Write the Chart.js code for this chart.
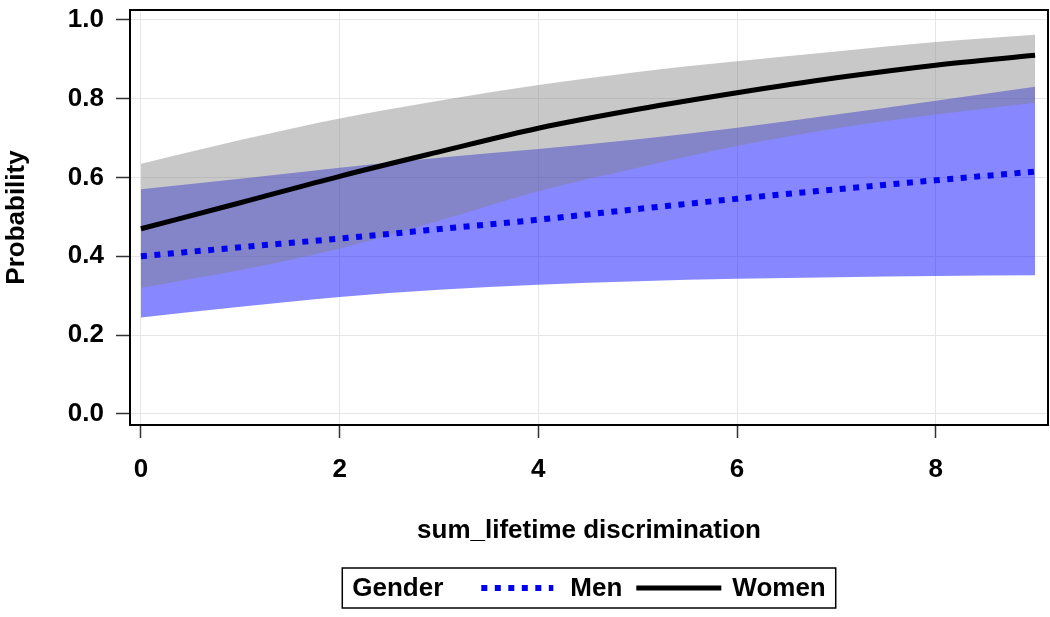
<!DOCTYPE html>
<html lang="en">
<head>
<meta charset="utf-8">
<title>Probability by sum_lifetime discrimination</title>
<style>
  html, body { margin: 0; padding: 0; background: #fff; }
  #wrap { width: 1050px; height: 617px; }
</style>
</head>
<body>
<div id="wrap"><canvas id="chart"></canvas></div>
<script src="https://cdn.jsdelivr.net/npm/chart.js@4.4.1/dist/chart.umd.min.js"></script>
<script>
// values
const discrimination = [0, 1, 2, 3, 4, 5, 6, 7, 8, 9];
const womenProb  = [0.470, 0.536, 0.603, 0.665, 0.725, 0.773, 0.815, 0.853, 0.885, 0.910];
const womenLower = [0.320, 0.365, 0.420, 0.490, 0.565, 0.625, 0.680, 0.725, 0.760, 0.790];
const womenUpper = [0.635, 0.695, 0.750, 0.795, 0.835, 0.868, 0.895, 0.920, 0.944, 0.962];
const menProb    = [0.400, 0.423, 0.445, 0.469, 0.493, 0.520, 0.546, 0.570, 0.593, 0.615];
const menLower   = [0.245, 0.272, 0.297, 0.315, 0.328, 0.337, 0.343, 0.347, 0.350, 0.352];
const menUpper   = [0.570, 0.597, 0.625, 0.650, 0.672, 0.697, 0.726, 0.760, 0.795, 0.830];
const xTicks = [0, 2, 4, 6, 8];
const yTicks = [0.0, 0.2, 0.4, 0.6, 0.8, 1.0];

const pts = ys => ys.map((y, i) => ({x: discrimination[i], y: y}));
const FAMILY = "'Liberation Sans', Arial, sans-serif";
Chart.defaults.font.family = FAMILY;
Chart.defaults.font.size = 26;
Chart.defaults.font.weight = 'bold';
Chart.defaults.color = '#000';

function band(data, order, fill, color) {
  return {
    data: pts(data), order: order, fill: fill, backgroundColor: color,
    borderWidth: 0, pointRadius: 0, cubicInterpolationMode: 'monotone'
  };
}

// black frame round the plot area
const frame = {
  id: 'frame',
  afterDraw(chart) {
    const {ctx, chartArea: a} = chart;
    ctx.save();
    ctx.strokeStyle = '#000';
    ctx.lineWidth = 2;
    ctx.strokeRect(a.left, a.top, a.right - a.left, a.bottom - a.top);
    ctx.restore();
  }
};

// legend in one boxed row: "Gender", then the two line samples
const genderLegend = {
  id: 'genderLegend',
  afterDraw(chart) {
    const {ctx, chartArea: a} = chart;
    const men = chart.data.datasets.find(d => d.label === 'Men');
    const women = chart.data.datasets.find(d => d.label === 'Women');
    ctx.save();
    ctx.font = 'bold 26px ' + FAMILY;
    ctx.textBaseline = 'middle';
    const wG = ctx.measureText('Gender').width;
    const wM = ctx.measureText('Men').width;
    const wW = ctx.measureText('Women').width;
    const total = 10 + wG + 38 + 72 + 17 + wM + 14 + 85 + 11 + wW + 10;
    const left = (a.left + a.right) / 2 - total / 2;
    const top = 568, h = 40, cy = top + h / 2;
    ctx.strokeStyle = '#000';
    ctx.lineWidth = 1.5;
    ctx.strokeRect(left, top, total, h);
    ctx.fillStyle = '#000';
    let x = left + 10;
    ctx.fillText('Gender', x, cy + 1);
    x += wG + 38;
    ctx.strokeStyle = men.borderColor;
    ctx.lineWidth = men.borderWidth;
    ctx.setLineDash(men.borderDash);
    ctx.beginPath(); ctx.moveTo(x, cy); ctx.lineTo(x + 72, cy); ctx.stroke();
    x += 72 + 17;
    ctx.setLineDash([]);
    ctx.fillText('Men', x, cy + 1);
    x += wM + 14;
    ctx.strokeStyle = women.borderColor;
    ctx.lineWidth = women.borderWidth;
    ctx.beginPath(); ctx.moveTo(x, cy); ctx.lineTo(x + 85, cy); ctx.stroke();
    x += 85 + 11;
    ctx.fillText('Women', x, cy + 1);
    ctx.restore();
  }
};

new Chart(document.getElementById('chart'), {
  type: 'line',
  data: {
    datasets: [
      band(menLower, 4, false, 'transparent'),
      band(menUpper, 3, '-1', 'rgba(0, 0, 255, 0.47)'),
      band(womenLower, 2, false, 'transparent'),
      band(womenUpper, 1, '-1', 'rgba(128, 128, 128, 0.43)'),
      {
        label: 'Men', data: pts(menProb), order: 0,
        borderColor: '#0000f0', borderWidth: 6, borderDash: [6, 7.5],
        pointRadius: 0, fill: false, cubicInterpolationMode: 'monotone'
      },
      {
        label: 'Women', data: pts(womenProb), order: 0,
        borderColor: '#000', borderWidth: 5,
        pointRadius: 0, fill: false, cubicInterpolationMode: 'monotone'
      }
    ]
  },
  options: {
    responsive: true,
    maintainAspectRatio: false,
    animation: false,
    layout: {padding: {top: 10, right: 2, bottom: 70, left: 0}},
    plugins: {legend: {display: false}, tooltip: {enabled: false}},
    scales: {
      x: {
        type: 'linear', min: -0.11, max: 9.13,
        afterBuildTicks: s => { s.ticks = xTicks.map(v => ({value: v})); },
        afterFit: s => { s.height = 122; s.paddingLeft = 0; s.paddingRight = 0; },
        ticks: {padding: 16, callback: v => String(v)},
        grid: {color: '#e6e6e6', tickColor: '#333', tickWidth: 1.5, tickLength: 13},
        border: {display: false},
        title: {display: true, text: 'sum_lifetime discrimination', padding: {top: 0, bottom: 1}}
      },
      y: {
        min: -0.028, max: 1.025,
        afterBuildTicks: s => { s.ticks = yTicks.map(v => ({value: v})); },
        afterFit: s => { s.width = 130; s.paddingTop = 0; s.paddingBottom = 0; },
        ticks: {padding: 12, callback: v => v.toFixed(1)},
        grid: {color: '#e6e6e6', tickColor: '#333', tickWidth: 1.5, tickLength: 14},
        border: {display: false},
        title: {display: true, text: 'Probability', padding: {top: 1, bottom: 0}}
      }
    }
  },
  plugins: [frame, genderLegend]
});
</script>
</body>
</html>
